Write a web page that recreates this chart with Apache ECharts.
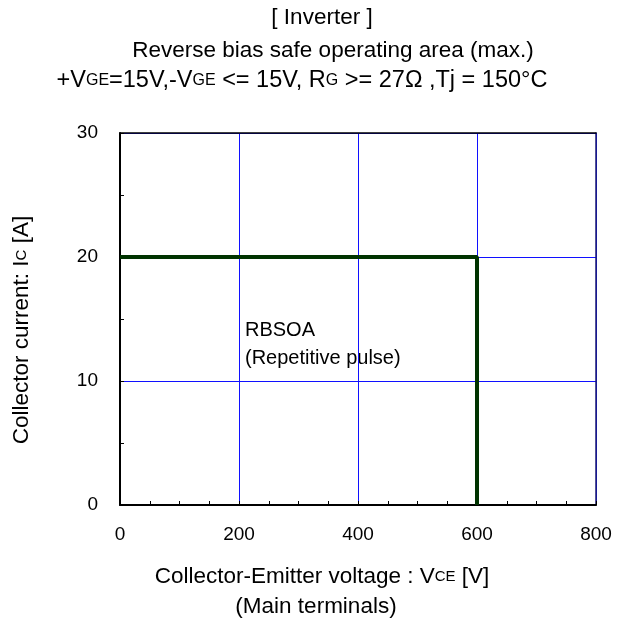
<!DOCTYPE html>
<html>
<head>
<meta charset="utf-8">
<script src="https://cdn.jsdelivr.net/npm/echarts@6/dist/echarts.min.js"></script>
<style>
  html, body { margin: 0; padding: 0; background: #fff; }
  #main { width: 623px; height: 632px; }
</style>
</head>
<body>
<div id="main"></div>
<script>
// RBSOA boundary (Vce, Ic)
var vce = [0, 600, 600]
var ic = [20, 20, 0]
// axis ticks
var xTicks = [0, 200, 400, 600, 800]
var yTicks = [0, 10, 20, 30]
var titleLines = ['[ Inverter ]', 'Reverse bias safe operating area (max.)']
var noteLines = ['RBSOA', '(Repetitive pulse)']

;(function () {
  var myChart = echarts.init(document.getElementById('main'));
  var font = 'Liberation Sans, Arial, sans-serif'

  var line = []
  for (var i = 0; i < vce.length; i++) {
    line.push([vce[i], ic[i]])
  }

  // 居中文字
  function txt(x, y, text, rot, size, subSize) {
    return {
      type: 'text',
      x: x,
      y: y,
      rotation: rot || 0,
      style: {
        text: text,
        align: 'center',
        verticalAlign: 'middle',
        fill: '#000',
        font: (size || 22.5) + 'px ' + font,
        rich: { s: { fontSize: subSize || 15, fontFamily: font, color: '#000' } }
      }
    }
  }

  var option;
  option = {
    animation: false,
    backgroundColor: '#fff',
    grid: {
      left: 120,
      right: 27,
      top: 133,
      bottom: 127
    },
    xAxis: [
      {
        type: 'value',
        min: xTicks[0],
        max: xTicks[xTicks.length - 1],
        interval: xTicks[1] - xTicks[0],
        axisLine: { onZero: false, lineStyle: { color: '#000', width: 2 } },
        axisTick: { show: true, inside: true, length: 4, lineStyle: { color: '#000' } },
        minorTick: { show: true, splitNumber: 4, length: 4, lineStyle: { color: '#000' } },
        axisLabel: { margin: 20, fontSize: 19, fontFamily: font, color: '#000' },
        splitLine: { show: true, lineStyle: { color: '#1010ff', width: 1 } }
      },
      {
        // top border
        type: 'value',
        position: 'top',
        min: xTicks[0],
        max: xTicks[xTicks.length - 1],
        axisLine: { show: true, onZero: false, lineStyle: { color: '#000', width: 1.5 } },
        axisTick: { show: false },
        axisLabel: { show: false },
        splitLine: { show: false }
      }
    ],
    yAxis: [
      {
        type: 'value',
        min: yTicks[0],
        max: yTicks[yTicks.length - 1],
        interval: yTicks[1] - yTicks[0],
        axisLine: { show: true, onZero: false, lineStyle: { color: '#000', width: 2 } },
        axisTick: { show: true, inside: true, length: 4, lineStyle: { color: '#000' } },
        minorTick: { show: true, splitNumber: 2, length: 4, lineStyle: { color: '#000' } },
        axisLabel: { margin: 22, fontSize: 19, fontFamily: font, color: '#000' },
        splitLine: { show: true, lineStyle: { color: '#1010ff', width: 1 } }
      },
      {
        // right border
        type: 'value',
        position: 'right',
        min: yTicks[0],
        max: yTicks[yTicks.length - 1],
        axisLine: { show: true, onZero: false, lineStyle: { color: '#1a1a70', width: 1.5 } },
        axisTick: { show: false },
        axisLabel: { show: false },
        splitLine: { show: false }
      }
    ],
    graphic: [
      txt(322, 18, titleLines[0]),
      txt(333, 51, titleLines[1]),
      txt(302, 81, '+V{s|GE}=15V,-V{s|GE} <= 15V, R{s|G} >= 27Ω ,Tj = 150°C', 0, 23.5, 16),
      txt(322, 577, 'Collector-Emitter voltage : V{s|CE} [V]'),
      txt(316, 607, '(Main terminals)'),
      txt(22, 330, 'Collector current: I{s|C} [A]', Math.PI / 2),
      {
        type: 'text',
        left: 245,
        top: 316,
        style: {
          text: noteLines.join('\n'),
          fill: '#000',
          font: '20px ' + font,
          lineHeight: 28
        }
      }
    ],
    series: [
      {
        type: 'line',
        data: line,
        symbol: 'none',
        lineStyle: { color: '#003300', width: 4 },
        z: 5
      }
    ]
  };
  //实例化图表
  if (option && typeof option === 'object') {
    myChart.setOption(option);
  };
  window.addEventListener("resize", function () {
    myChart.resize();
  });
})();
</script>
</body>
</html>
